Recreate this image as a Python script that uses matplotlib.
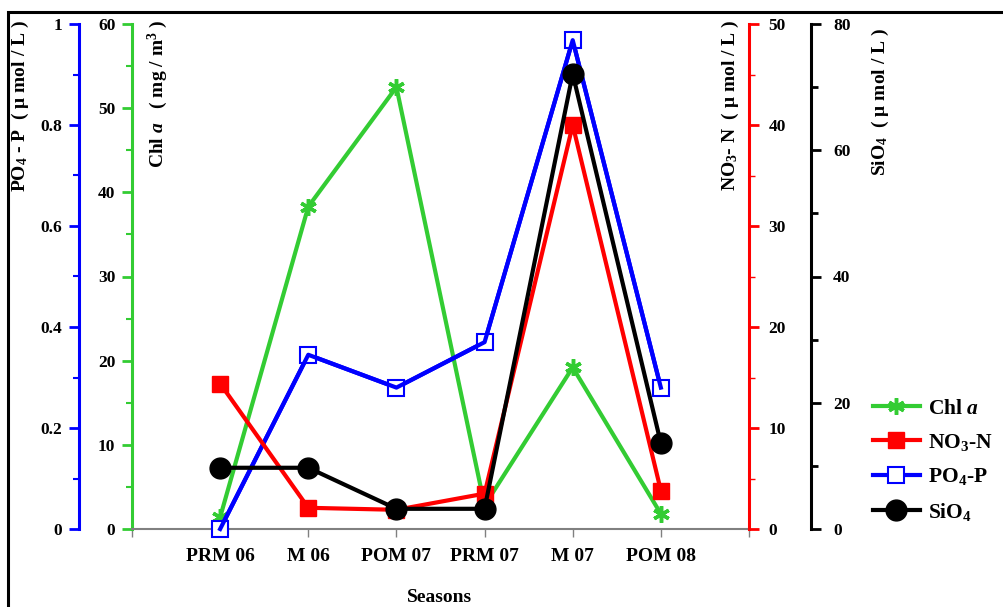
import matplotlib
matplotlib.use("Agg")
import matplotlib.pyplot as plt
from matplotlib.patches import Rectangle
from matplotlib.ticker import MultipleLocator

plt.rcParams['font.family'] = ['Liberation Serif', 'DejaVu Serif']
plt.rcParams['font.weight'] = 'bold'
plt.rcParams['mathtext.fontset'] = 'custom'
plt.rcParams['mathtext.rm'] = 'Liberation Serif:bold'
plt.rcParams['mathtext.bf'] = 'Liberation Serif:bold'
plt.rcParams['mathtext.it'] = 'Liberation Serif:italic:bold'
plt.rcParams['mathtext.default'] = 'bf'

seasons = ["PRM 06", "M 06", "POM 07", "PRM 07", "M 07", "POM 08"]
chl_a = [1.4, 38.3, 52.5, 2.8, 19.2, 1.8]
no3_n = [14.4, 2.1, 1.9, 3.5, 40.0, 3.8]
po4_p = [0.0, 0.345, 0.28, 0.37, 0.968, 0.28]
sio4 = [9.7, 9.7, 3.2, 3.2, 72.1, 13.6]

GREEN = '#33cc33'
RED = '#ff0000'
BLUE = '#0000ff'
BLACK = '#000000'
GRAY = '#808080'

fig = plt.figure(figsize=(10.04, 6.07), dpi=100)
W, H = 1004, 607

# outer frame
fig.patches.append(Rectangle((8 / W, -0.1), 1.2, 1 - 12 / H + 0.1, transform=fig.transFigure,
                             fill=False, edgecolor='black', lw=2.2, zorder=0))

x0, x1, ytop, ybot = 132, 749, 24, 529
ax = fig.add_axes([x0 / W, 1 - ybot / H, (x1 - x0) / W, (ybot - ytop) / H])
ax.patch.set_alpha(0)
xs = list(range(1, len(seasons) + 1))

ax_po4 = ax.twinx()
ax_no3 = ax.twinx()
ax_si = ax.twinx()

for a in (ax, ax_po4, ax_no3, ax_si):
    for s in a.spines.values():
        s.set_visible(False)
    a.patch.set_alpha(0)

ax.set_xlim(0, 7)
ax.set_xticks(range(0, 8))
ax.set_xticklabels([''] + seasons + [''])
ax.spines['bottom'].set_visible(True)
ax.spines['bottom'].set_color(GRAY)
ax.spines['bottom'].set_linewidth(1.5)
ax.tick_params(axis='x', colors=GRAY, direction='out', length=6, width=1, labelcolor='black',
               labelsize=14, pad=8)
for lbl in ax.get_xticklabels():
    lbl.set_fontweight('bold')

# Chl a axis (left, green)
ax.set_ylim(0, 60)
ax.yaxis.set_major_locator(MultipleLocator(10))
ax.yaxis.set_minor_locator(MultipleLocator(5))
ax.spines['left'].set_visible(True)
ax.spines['left'].set_color(GREEN)
ax.spines['left'].set_linewidth(2.2)
ax.tick_params(axis='y', which='major', colors=GREEN, labelcolor='black', length=7, width=2,
               labelsize=12.5, pad=5)
ax.tick_params(axis='y', which='minor', colors=GREEN, length=4, width=1.5)

# PO4 axis (outer left, blue)
ax_po4.set_ylim(0, 1)
ax_po4.yaxis.set_ticks_position('left')
ax_po4.yaxis.set_label_position('left')
ax_po4.spines['left'].set_visible(True)
ax_po4.spines['left'].set_position(('axes', (79 - x0) / (x1 - x0)))
ax_po4.spines['left'].set_color(BLUE)
ax_po4.spines['left'].set_linewidth(2.2)
ax_po4.yaxis.set_major_locator(MultipleLocator(0.2))
ax_po4.yaxis.set_minor_locator(MultipleLocator(0.1))
ax_po4.set_yticks([0, 0.2, 0.4, 0.6, 0.8, 1.0])
ax_po4.set_yticklabels(['0', '0.2', '0.4', '0.6', '0.8', '1'])
ax_po4.tick_params(axis='y', which='major', colors=BLUE, labelcolor='black', length=7, width=2,
                   labelsize=12.5, pad=5)
ax_po4.tick_params(axis='y', which='minor', colors=BLUE, length=4, width=1.5)

# NO3 axis (right, red)
ax_no3.set_ylim(0, 50)
ax_no3.spines['right'].set_visible(True)
ax_no3.spines['right'].set_color(RED)
ax_no3.spines['right'].set_linewidth(2.2)
ax_no3.yaxis.set_major_locator(MultipleLocator(10))
ax_no3.yaxis.set_minor_locator(MultipleLocator(5))
ax_no3.tick_params(axis='y', which='major', colors=RED, labelcolor='black', length=7, width=2,
                   labelsize=12.5, pad=7)
ax_no3.tick_params(axis='y', which='minor', colors=RED, length=4, width=1)

# SiO4 axis (outer right, black)
ax_si.set_ylim(0, 80)
ax_si.spines['right'].set_visible(True)
ax_si.spines['right'].set_position(('axes', (811 - x0) / (x1 - x0)))
ax_si.spines['right'].set_color(BLACK)
ax_si.spines['right'].set_linewidth(2.2)
ax_si.yaxis.set_major_locator(MultipleLocator(20))
ax_si.yaxis.set_minor_locator(MultipleLocator(10))
ax_si.tick_params(axis='y', which='major', colors=BLACK, length=7, width=2, labelsize=12.5, pad=9)
ax_si.tick_params(axis='y', which='minor', colors=BLACK, length=5, width=2)

for a in (ax, ax_po4, ax_no3, ax_si):
    for lbl in a.get_yticklabels():
        lbl.set_fontweight('bold')

lw = 3
l1, = ax.plot(xs, chl_a, color=GREEN, lw=lw, marker=(6, 2, 0), ms=12, mew=2.5,
              label=r'Chl $\mathit{a}$', clip_on=False, zorder=3)
l2, = ax_no3.plot(xs, no3_n, color=RED, lw=lw, marker='s', ms=11, mec=RED, mfc=RED,
                  label=r'NO$_3$-N', clip_on=False, zorder=3)
l3, = ax_po4.plot(xs, po4_p, color=BLUE, lw=lw, marker='s', ms=12, mfc='white', mec=BLUE, mew=1.5,
                  label=r'PO$_4$-P', clip_on=False, zorder=3)
# keep the line drawn over the open marker
ax_po4.plot(xs, po4_p, color=BLUE, lw=lw, clip_on=False, zorder=4)
l4, = ax_si.plot(xs, sio4, color=BLACK, lw=lw, marker='o', ms=15,
                 label=r'SiO$_4$', clip_on=False, zorder=3)

fig.text(440 / W, 1 - 597 / H, 'Seasons', ha='center', va='center', fontsize=14,
         fontweight='bold')

# axis titles
fig.text(20 / W, 1 - 20 / H, r'PO$_4$ - P  ( $\mu$ mol / L )', rotation=90, ha='center', va='top',
         fontsize=14, fontweight='bold')
fig.text(158 / W, 1 - 20 / H, r'Chl $\mathit{a}$   ( mg / m$^3$ )', rotation=90, ha='center',
         va='top', fontsize=14, fontweight='bold')
fig.text(730 / W, 1 - 20 / H, r'NO$_3$- N  ( $\mu$ mol / L )', rotation=90, ha='center', va='top',
         fontsize=14, fontweight='bold')
fig.text(880 / W, 1 - 28 / H, r'SiO$_4$  ( $\mu$ mol / L )', rotation=90, ha='center', va='top',
         fontsize=14, fontweight='bold')

fig.legend(handles=[l1, l2, l3, l4], loc='upper left', bbox_to_anchor=(864 / W, 1 - 390 / H),
           frameon=False, fontsize=15.5, handlelength=2.2, labelspacing=0.62, handletextpad=0.35,
           borderaxespad=0)

fig.savefig('out.png', dpi=100)
